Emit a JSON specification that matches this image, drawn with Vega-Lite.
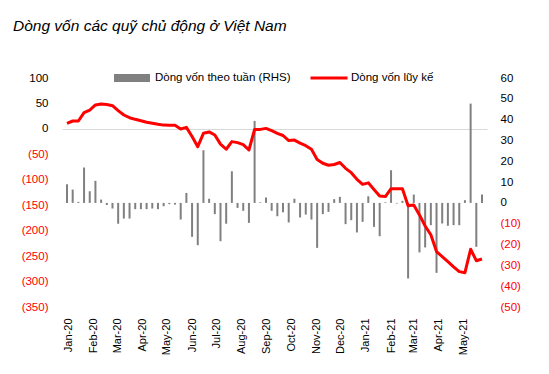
{
  "$schema": "https://vega.github.io/schema/vega-lite/v6.json",
  "width": 425,
  "height": 229,
  "autosize": {"type": "none"},
  "padding": {"left": 62, "top": 78, "right": 62, "bottom": 67},
  "background": "white",
  "title": {
    "text": "Dòng vốn các quỹ chủ động ở Việt Nam",
    "anchor": "start",
    "frame": "group",
    "dx": -49,
    "offset": 12,
    "font": "Liberation Sans",
    "fontStyle": "italic",
    "fontWeight": "normal",
    "fontSize": 15.5,
    "color": "#000000",
    "baseline": "alphabetic"
  },
  "config": {
    "view": {"stroke": null},
    "font": "Liberation Sans",
    "axis": {"labelFont": "Liberation Sans", "domain": false, "ticks": false, "title": null}
  },
  "data": {
    "values": [
      {"date": "2019-12-30T00:00:00", "weekly": 9, "cum": 11},
      {"date": "2020-01-06T00:00:00", "weekly": 6.4, "cum": 15.5},
      {"date": "2020-01-13T00:00:00", "weekly": 0.5, "cum": 15.5},
      {"date": "2020-01-20T00:00:00", "weekly": 17, "cum": 32},
      {"date": "2020-01-27T00:00:00", "weekly": 5.6, "cum": 37},
      {"date": "2020-02-03T00:00:00", "weekly": 10.6, "cum": 47},
      {"date": "2020-02-10T00:00:00", "weekly": 1.6, "cum": 49},
      {"date": "2020-02-17T00:00:00", "weekly": -1, "cum": 48},
      {"date": "2020-02-24T00:00:00", "weekly": -2.7, "cum": 45.6},
      {"date": "2020-03-02T00:00:00", "weekly": -10, "cum": 36},
      {"date": "2020-03-09T00:00:00", "weekly": -7.5, "cum": 27.3},
      {"date": "2020-03-16T00:00:00", "weekly": -7.5, "cum": 22},
      {"date": "2020-03-23T00:00:00", "weekly": -3, "cum": 18.8},
      {"date": "2020-03-30T00:00:00", "weekly": -3, "cum": 16},
      {"date": "2020-04-06T00:00:00", "weekly": -3, "cum": 13},
      {"date": "2020-04-13T00:00:00", "weekly": -2.7, "cum": 11},
      {"date": "2020-04-20T00:00:00", "weekly": -3, "cum": 9},
      {"date": "2020-04-27T00:00:00", "weekly": -1.6, "cum": 7.4},
      {"date": "2020-05-04T00:00:00", "weekly": -0.6, "cum": 7},
      {"date": "2020-05-11T00:00:00", "weekly": -0.8, "cum": 7},
      {"date": "2020-05-18T00:00:00", "weekly": -8, "cum": -0.2},
      {"date": "2020-05-25T00:00:00", "weekly": 4.8, "cum": 3},
      {"date": "2020-06-01T00:00:00", "weekly": -16.3, "cum": -15},
      {"date": "2020-06-08T00:00:00", "weekly": -20.3, "cum": -35},
      {"date": "2020-06-15T00:00:00", "weekly": 25.3, "cum": -8.7},
      {"date": "2020-06-22T00:00:00", "weekly": 2, "cum": -6},
      {"date": "2020-06-29T00:00:00", "weekly": -5.4, "cum": -12},
      {"date": "2020-07-06T00:00:00", "weekly": -18.4, "cum": -30},
      {"date": "2020-07-13T00:00:00", "weekly": -10, "cum": -40},
      {"date": "2020-07-20T00:00:00", "weekly": 15.2, "cum": -25},
      {"date": "2020-07-27T00:00:00", "weekly": -2.4, "cum": -27},
      {"date": "2020-08-03T00:00:00", "weekly": -3.8, "cum": -31},
      {"date": "2020-08-10T00:00:00", "weekly": -9.6, "cum": -41.5},
      {"date": "2020-08-17T00:00:00", "weekly": 39.4, "cum": -1},
      {"date": "2020-08-24T00:00:00", "weekly": 0.3, "cum": -1},
      {"date": "2020-08-31T00:00:00", "weekly": 2.6, "cum": 1},
      {"date": "2020-09-07T00:00:00", "weekly": -3.8, "cum": -3.5},
      {"date": "2020-09-14T00:00:00", "weekly": -6.4, "cum": -8.7},
      {"date": "2020-09-21T00:00:00", "weekly": -4.5, "cum": -13},
      {"date": "2020-09-28T00:00:00", "weekly": -9.4, "cum": -23},
      {"date": "2020-10-05T00:00:00", "weekly": 2, "cum": -22},
      {"date": "2020-10-12T00:00:00", "weekly": -7, "cum": -28},
      {"date": "2020-10-19T00:00:00", "weekly": -5.6, "cum": -33},
      {"date": "2020-10-26T00:00:00", "weekly": -8, "cum": -40},
      {"date": "2020-11-02T00:00:00", "weekly": -21.6, "cum": -60},
      {"date": "2020-11-09T00:00:00", "weekly": -5.4, "cum": -67.6},
      {"date": "2020-11-16T00:00:00", "weekly": -4.3, "cum": -71.5},
      {"date": "2020-11-23T00:00:00", "weekly": 1.8, "cum": -70},
      {"date": "2020-11-30T00:00:00", "weekly": 2.9, "cum": -66},
      {"date": "2020-12-07T00:00:00", "weekly": -10.2, "cum": -77.5},
      {"date": "2020-12-14T00:00:00", "weekly": -8.3, "cum": -86},
      {"date": "2020-12-21T00:00:00", "weekly": -14.2, "cum": -99},
      {"date": "2020-12-28T00:00:00", "weekly": -9.1, "cum": -109},
      {"date": "2021-01-04T00:00:00", "weekly": 3.2, "cum": -106},
      {"date": "2021-01-11T00:00:00", "weekly": -11.5, "cum": -119},
      {"date": "2021-01-18T00:00:00", "weekly": -16, "cum": -132},
      {"date": "2021-01-25T00:00:00", "weekly": 0.3, "cum": -133},
      {"date": "2021-02-01T00:00:00", "weekly": 15.7, "cum": -117.5},
      {"date": "2021-02-08T00:00:00", "weekly": -0.3, "cum": -117.5},
      {"date": "2021-02-15T00:00:00", "weekly": 1, "cum": -117.5},
      {"date": "2021-02-22T00:00:00", "weekly": -36.3, "cum": -151},
      {"date": "2021-03-01T00:00:00", "weekly": 4, "cum": -149.5},
      {"date": "2021-03-08T00:00:00", "weekly": -23.8, "cum": -169},
      {"date": "2021-03-15T00:00:00", "weekly": -21.4, "cum": -190.8},
      {"date": "2021-03-22T00:00:00", "weekly": -10.7, "cum": -208},
      {"date": "2021-03-29T00:00:00", "weekly": -33.6, "cum": -241},
      {"date": "2021-04-05T00:00:00", "weekly": -9.9, "cum": -251},
      {"date": "2021-04-12T00:00:00", "weekly": -11, "cum": -261},
      {"date": "2021-04-19T00:00:00", "weekly": -10.7, "cum": -271},
      {"date": "2021-04-26T00:00:00", "weekly": -10.7, "cum": -280.5},
      {"date": "2021-05-03T00:00:00", "weekly": 1.3, "cum": -282.5},
      {"date": "2021-05-10T00:00:00", "weekly": 47.7, "cum": -236.5},
      {"date": "2021-05-17T00:00:00", "weekly": -21.1, "cum": -259},
      {"date": "2021-05-24T00:00:00", "weekly": 4, "cum": -255.6}
    ]
  },
  "encoding": {
    "x": {
      "field": "date",
      "type": "temporal",
      "scale": {"domain": [{"year": 2019, "month": 12, "date": 30}, {"year": 2021, "month": 5, "date": 24}]},
      "axis": {
        "format": "%b-%y",
        "tickCount": {"interval": "month", "step": 1},
        "labelAngle": 270,
        "labelPadding": 11,
        "labelFontSize": 11,
        "labelColor": "#000000",
        "labelFlush": false,
        "labelOverlap": false,
        "labelBound": false,
        "grid": false
      }
    }
  },
  "layer": [
    {
      "mark": {"type": "bar", "size": 2},
      "encoding": {
        "y": {
          "field": "weekly",
          "type": "quantitative",
          "scale": {"domain": [-50, 60], "nice": false, "zero": true},
          "axis": {
            "orient": "right",
            "values": [60, 50, 40, 30, 20, 10, 0, -10, -20, -30, -40, -50],
            "labelExpr": "datum.value < 0 ? '(' + format(-datum.value, 'd') + ')' : format(datum.value, 'd')",
            "labelColor": {"condition": {"test": "datum.value < 0", "value": "#ff0000"}, "value": "#000000"},
            "labelFontSize": 11.5,
            "labelPadding": 13,
            "grid": false
          }
        },
        "fill": {
          "datum": "Dòng vốn theo tuần (RHS)",
          "type": "nominal",
          "scale": {"range": ["#808080"]},
          "legend": {
            "orient": "none",
            "legendX": 52,
            "legendY": -18,
            "title": null,
            "padding": 0,
            "symbolType": "M-1,-0.22H1V0.22H-1Z",
            "symbolSize": 1296,
            "symbolStrokeWidth": 0,
            "labelFont": "Liberation Sans",
            "labelFontSize": 11.5,
            "labelColor": "#000000",
            "labelOffset": 5
          }
        }
      }
    },
    {
      "mark": {"type": "line", "strokeWidth": 3, "strokeJoin": "round"},
      "encoding": {
        "y": {
          "field": "cum",
          "type": "quantitative",
          "scale": {"domain": [-350, 100], "nice": false},
          "axis": {
            "orient": "left",
            "values": [100, 50, 0, -50, -100, -150, -200, -250, -300, -350],
            "labelExpr": "datum.value < 0 ? '(' + format(-datum.value, 'd') + ')' : format(datum.value, 'd') + '\u00a0'",
            "labelColor": {"condition": {"test": "datum.value < 0", "value": "#ff0000"}, "value": "#000000"},
            "labelFontSize": 11.5,
            "labelPadding": 14,
            "grid": true,
            "gridColor": "#d9d9d9",
            "gridWidth": 1,
            "gridOpacity": {"condition": {"test": "datum.value === 0", "value": 1}, "value": 0}
          }
        },
        "stroke": {
          "datum": "Dòng vốn lũy kế",
          "type": "nominal",
          "scale": {"range": ["#ff0000"]},
          "legend": {
            "orient": "none",
            "legendX": 247,
            "legendY": -20,
            "title": null,
            "padding": 0,
            "symbolType": "stroke",
            "symbolSize": 1369,
            "symbolStrokeWidth": 3,
            "labelFont": "Liberation Sans",
            "labelFontSize": 11.5,
            "labelColor": "#000000",
            "labelOffset": 2
          }
        }
      }
    }
  ],
  "resolve": {"scale": {"y": "independent", "fill": "independent", "stroke": "independent"}}
}
